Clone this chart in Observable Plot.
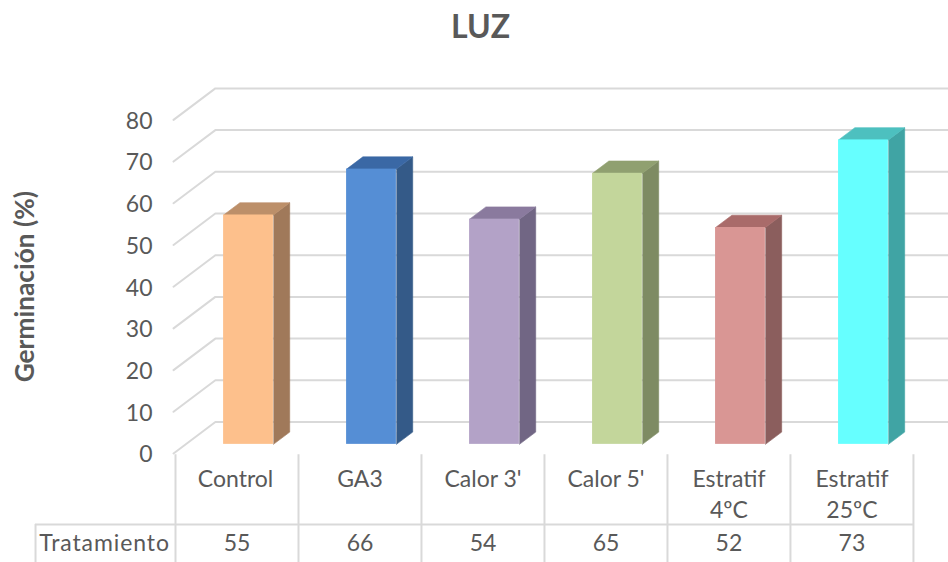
<!DOCTYPE html>
<html lang="es">
<head>
<meta charset="utf-8">
<script src="https://cdn.jsdelivr.net/npm/d3@7"></script>
<script src="https://cdn.jsdelivr.net/npm/@observablehq/plot@0.6"></script>
<style>
  html, body { margin: 0; padding: 0; background: #fff; }
  #title { width: 948px; height: 52px; box-sizing: border-box; padding-left: 13px; line-height: 52px; text-align: center;
           font: bold 32px/52px Lato, sans-serif; color: #595959; }
  svg { display: block; }
  .row-label text { letter-spacing: 0.9px; }
</style>
</head>
<body>
<div id="title">LUZ</div>
<div id="chart"></div>
<script>
const categories = ["Control", "GA3", "Calor 3'", "Calor 5'", "Estratif\n4ºC", "Estratif\n25ºC"];
const values = [55, 66, 54, 65, 52, 73];
const frontColors = ["#FDC08C", "#558ED5", "#B3A2C7", "#C3D69B", "#D99694", "#66FFFF"];
const sideColors = ["#A0795A", "#345A88", "#716684", "#7E8B63", "#8B5E5D", "#40A4A4"];
const topColors = ["#BC8F69", "#3A68A5", "#8A7A9E", "#90A070", "#A96B6A", "#4DC0BF"];
const yTicks = [0, 10, 20, 30, 40, 50, 60, 70, 80];
const rowLabel = "Tratamiento";
const yLabel = "Germinación (%)";

// Oblique projection: depth 0 is the axis plane, depth 1 the back wall.
const shearX = 0.34, shearY = 7.55;
const barDepth0 = 0.29, barDepth1 = 0.68, barWidth = 0.405, barShift = -0.005, gridStart = -0.016;
const xEnd = 6.285;
const project = (x, y, depth) => ({x: x + shearX * depth, y: y + shearY * depth});

// Table rows, in y-scale units below zero
const tableSplit = -17, tableBottom = -26.2, tableLabelTop = -2.6, tableValueY = -21.6;
const rowLabelX = -0.577, tableLeft = -1.138;

const bars = values.map((v, i) => {
  const x0 = i + 0.5 - barWidth / 2 + barShift, x1 = x0 + barWidth;
  return {i, v, x0, x1};
});

const polygon = (id, fill, corners) => corners.map(([x, y, d]) => ({id, fill, ...project(x, y, d)}));
const sideFaces = bars.flatMap(b => polygon(`s${b.i}`, sideColors[b.i], [
  [b.x1, 0, barDepth0], [b.x1, 0, barDepth1], [b.x1, b.v, barDepth1], [b.x1, b.v, barDepth0]
]));
const topFaces = bars.flatMap(b => polygon(`t${b.i}`, topColors[b.i], [
  [b.x0, b.v, barDepth0], [b.x0, b.v, barDepth1], [b.x1, b.v, barDepth1], [b.x1, b.v, barDepth0]
]));
const grid = yTicks.flatMap(t => [
  {t, ...project(gridStart, t, 0)},
  {t, ...project(gridStart, t, 1)},
  {t, x: xEnd, y: t + shearY}
]);
const fronts = bars.map(b => {
  const p0 = project(b.x0, 0, barDepth0), p1 = project(b.x1, b.v, barDepth0);
  return {x1: p0.x, x2: p1.x, y1: p0.y, y2: p1.y, fill: frontColors[b.i]};
});
const borders = d3.range(categories.length + 1);
const GREY = "#D9D9D9", TEXT = "#595959", FONT = 23;

const plot = Plot.plot({
  width: 948, height: 510,
  marginLeft: 175, marginRight: 0, marginTop: 0, marginBottom: 0,
  style: {background: "#fff", fontFamily: "Lato, sans-serif", overflow: "visible"},
  x: {domain: [0, xEnd], range: [175, 948], axis: null},
  y: {domain: [0, 88], range: [401, 34], axis: null},
  marks: [
    Plot.line(grid, {x: "x", y: "y", z: "t", stroke: GREY, strokeWidth: 2}),
    Plot.ruleX(borders, {x: d => d, y1: tableBottom, y2: -0.3, stroke: GREY, strokeWidth: 2}),
    Plot.ruleX([tableLeft], {x: d => d, y1: tableSplit, y2: tableBottom, stroke: GREY, strokeWidth: 2}),
    Plot.ruleY([tableSplit], {y: d => d, x1: tableLeft, x2: categories.length, stroke: GREY, strokeWidth: 2}),
    Plot.line(sideFaces, {x: "x", y: "y", z: "id", fill: "fill", stroke: "fill", strokeWidth: 0.6}),
    Plot.line(topFaces, {x: "x", y: "y", z: "id", fill: "fill", stroke: "fill", strokeWidth: 0.6}),
    Plot.rect(fronts, {x1: "x1", x2: "x2", y1: "y1", y2: "y2", fill: "fill"}),
    Plot.axisY(yTicks, {anchor: "left", tickSize: 0, tickPadding: 23, fontSize: FONT, color: TEXT, label: null, dy: 1.5}),
    Plot.text([yLabel], {x: -1.22, y: 40, text: d => d, rotate: -90, fontSize: 26.3, fontWeight: "bold", fill: TEXT}),
    Plot.text(categories, {x: (d, i) => i + 0.5 + (i === 0 ? -0.012 : 0), y: tableLabelTop, text: d => d, lineAnchor: "top", lineHeight: 1.37, fontSize: FONT, fill: TEXT}),
    Plot.text(values, {x: (d, i) => i + 0.5, y: tableValueY, text: d => String(d), fontSize: FONT, fill: TEXT}),
    Plot.text([rowLabel], {x: rowLabelX, y: tableValueY, text: d => d, fontSize: FONT, fill: TEXT, className: "row-label"})
  ]
});
document.getElementById("chart").append(plot);
</script>
</body>
</html>
